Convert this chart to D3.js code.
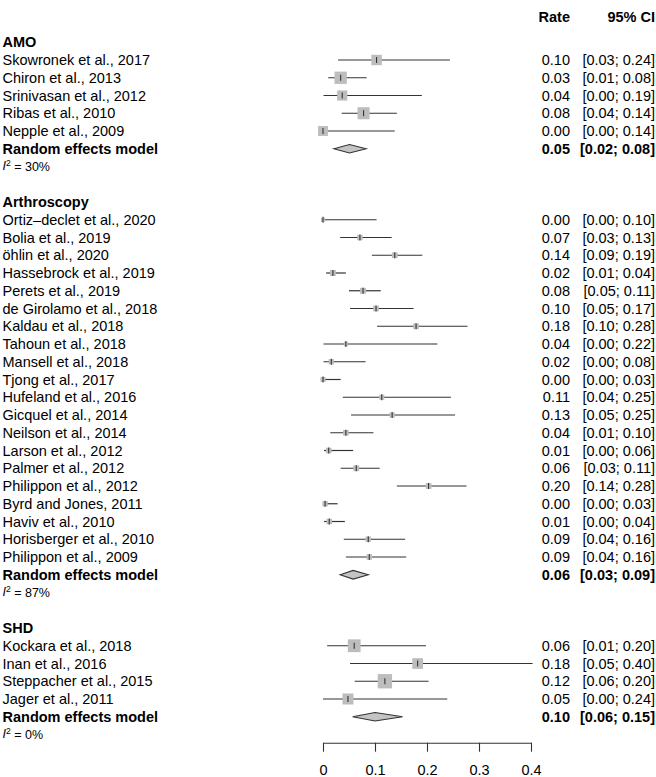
<!doctype html>
<html lang="en">
<head>
<meta charset="utf-8" />
<title>Forest plot</title>
<script src="https://d3js.org/d3.v7.min.js"></script>
<style>
  html, body { margin: 0; padding: 0; background: #fff; }
  svg text { font-family: "Liberation Sans", Arial, Helvetica, sans-serif; }
</style>
</head>
<body>
<div id="chart"></div>
<script>
// --- data ---
var groups = ["AMO", "Arthroscopy", "SHD"];
var i2 = [30, 87, 0];

var studies = [
  "Skowronek et al., 2017", "Chiron et al., 2013", "Srinivasan et al., 2012",
  "Ribas et al., 2010", "Nepple et al., 2009",
  "Ortiz\u2013declet et al., 2020", "Bolia et al., 2019", "öhlin et al., 2020",
  "Hassebrock et al., 2019", "Perets et al., 2019", "de Girolamo et al., 2018",
  "Kaldau et al., 2018", "Tahoun et al., 2018", "Mansell et al., 2018",
  "Tjong et al., 2017", "Hufeland et al., 2016", "Gicquel et al., 2014",
  "Neilson et al., 2014", "Larson et al., 2012", "Palmer et al., 2012",
  "Philippon et al., 2012", "Byrd and Jones, 2011", "Haviv et al., 2010",
  "Horisberger et al., 2010", "Philippon et al., 2009",
  "Kockara et al., 2018", "Inan et al., 2016", "Steppacher et al., 2015",
  "Jager et al., 2011"
];
var studyGroup = [0,0,0,0,0, 1,1,1,1,1,1,1,1,1,1,1,1,1,1,1,1,1,1,1,1, 2,2,2,2];
var rate  = [0.103, 0.034, 0.037, 0.078, 0.000,
             0.000, 0.071, 0.138, 0.019, 0.077, 0.102, 0.179, 0.044, 0.016, 0.000,
             0.113, 0.133, 0.044, 0.011, 0.064, 0.203, 0.004, 0.012, 0.087, 0.089,
             0.060, 0.182, 0.119, 0.048];
var lower = [0.029, 0.010, 0.001, 0.036, 0.000,
             0.000, 0.033, 0.094, 0.006, 0.050, 0.052, 0.104, 0.001, 0.001, 0.000,
             0.038, 0.054, 0.014, 0.002, 0.034, 0.142, 0.000, 0.002, 0.040, 0.044,
             0.008, 0.052, 0.061, 0.000];
var upper = [0.244, 0.084, 0.190, 0.142, 0.138,
             0.103, 0.132, 0.191, 0.044, 0.111, 0.174, 0.278, 0.220, 0.082, 0.034,
             0.246, 0.254, 0.097, 0.058, 0.109, 0.276, 0.028, 0.042, 0.158, 0.160,
             0.198, 0.403, 0.203, 0.239];
// weight within subgroup, %
var weight = [18, 25, 17, 24, 16,
              3.0, 5.0, 5.5, 5.8, 5.8, 5.4, 5.4, 3.0, 4.6, 4.2,
              4.3, 4.5, 5.3, 5.2, 5.6, 5.5, 4.8, 5.0, 4.9, 5.0,
              27, 19, 34, 20];
var pooledRate  = [0.051, 0.058, 0.100];
var pooledLower = [0.021, 0.033, 0.057];
var pooledUpper = [0.083, 0.087, 0.153];
var axisTicks = [0, 0.1, 0.2, 0.3, 0.4];

// --- layout ---
var W = 656, H = 777;
var fs = 14.5;
var svg = d3.select("#chart").append("svg").attr("width", W).attr("height", H);

var x = d3.scaleLinear().domain([0, 0.4]).range([323, 531]);
var y = d3.scaleLinear().domain([0, 37]).range([60, 716.75]);
var side = d3.scaleSqrt().domain([0, 100]).range([0, 24.6]);
var f2 = d3.format(".2f");
var rateX = 570, ciX = 655;
var ink = "#333";

// build the rows: header, studies, RE model, I2, blank
var rows = [];
var r = -1;
groups.forEach(function(g, gi) {
  rows.push({type: "head", row: r++, label: g});
  studyGroup.forEach(function(sg, i) {
    if (sg === gi) rows.push({type: "study", row: r++, i: i});
  });
  rows.push({type: "re", row: r++, g: gi});
  rows.push({type: "i2", row: r++, g: gi});
  r++; // blank line
});

// header
svg.append("text").attr("x", rateX).attr("y", 17).attr("dy", "0.35em")
  .attr("text-anchor", "end").attr("font-weight", "bold").attr("font-size", fs).text("Rate");
svg.append("text").attr("x", ciX).attr("y", 17).attr("dy", "0.35em")
  .attr("text-anchor", "end").attr("font-weight", "bold").attr("font-size", fs).text("95% CI");

rows.forEach(function(d) {
  var yy = y(d.row);
  if (d.type === "head") {
    svg.append("text").attr("x", 2.5).attr("y", yy).attr("dy", "0.35em")
      .attr("font-weight", "bold").attr("font-size", fs).text(d.label);
  } else if (d.type === "study") {
    var i = d.i;
    svg.append("text").attr("x", 2.5).attr("y", yy).attr("dy", "0.35em")
      .attr("font-size", fs).text(studies[i]);
    svg.append("line").attr("x1", x(lower[i])).attr("x2", x(upper[i]))
      .attr("y1", yy).attr("y2", yy).attr("stroke", ink).attr("stroke-width", 1.2);
    var s = side(weight[i]);
    svg.append("rect").attr("x", x(rate[i]) - s / 2).attr("y", yy - s / 2)
      .attr("width", s).attr("height", s).attr("fill", "#bdbdbd");
    svg.append("line").attr("x1", x(rate[i])).attr("x2", x(rate[i]))
      .attr("y1", yy - 3).attr("y2", yy + 3).attr("stroke", ink).attr("stroke-width", 1.1);
    svg.append("text").attr("x", rateX).attr("y", yy).attr("dy", "0.35em")
      .attr("text-anchor", "end").attr("font-size", fs).text(f2(rate[i]));
    svg.append("text").attr("x", ciX).attr("y", yy).attr("dy", "0.35em")
      .attr("text-anchor", "end").attr("font-size", fs)
      .text("[" + f2(lower[i]) + "; " + f2(upper[i]) + "]");
  } else if (d.type === "re") {
    var g = d.g;
    svg.append("text").attr("x", 2.5).attr("y", yy).attr("dy", "0.35em")
      .attr("font-weight", "bold").attr("font-size", fs).text("Random effects model");
    var pts = [[x(pooledLower[g]), yy], [x(pooledRate[g]), yy - 4.3],
               [x(pooledUpper[g]), yy], [x(pooledRate[g]), yy + 4.3]];
    svg.append("path").attr("d", "M" + pts.join("L") + "Z")
      .attr("fill", "#c4c4c4").attr("stroke", ink).attr("stroke-width", 1.1);
    svg.append("text").attr("x", rateX).attr("y", yy).attr("dy", "0.35em")
      .attr("text-anchor", "end").attr("font-weight", "bold").attr("font-size", fs)
      .text(f2(pooledRate[g]));
    svg.append("text").attr("x", ciX).attr("y", yy).attr("dy", "0.35em")
      .attr("text-anchor", "end").attr("font-weight", "bold").attr("font-size", fs)
      .text("[" + f2(pooledLower[g]) + "; " + f2(pooledUpper[g]) + "]");
  } else if (d.type === "i2") {
    var t = svg.append("text").attr("x", 2.5).attr("y", yy - 1).attr("dy", "0.35em")
      .attr("font-size", 12.5);
    t.append("tspan").attr("font-style", "italic").text("I");
    t.append("tspan").attr("font-size", 8.5).attr("dy", "-0.5em").text("2");
    t.append("tspan").attr("dy", "0.45em").text(" = " + i2[d.g] + "%");
  }
});

// x axis
var axis = d3.axisBottom(x).tickValues(axisTicks).tickSize(9).tickSizeOuter(0)
  .tickPadding(13).tickFormat(d3.format(""));
var ga = svg.append("g").attr("transform", "translate(0,742.7)").call(axis);
ga.selectAll("path, line").attr("stroke", ink).attr("stroke-width", 1.1);
ga.selectAll("text").attr("font-size", fs).attr("fill", "#000")
  .attr("font-family", "Liberation Sans, Arial, sans-serif");
</script>
</body>
</html>
